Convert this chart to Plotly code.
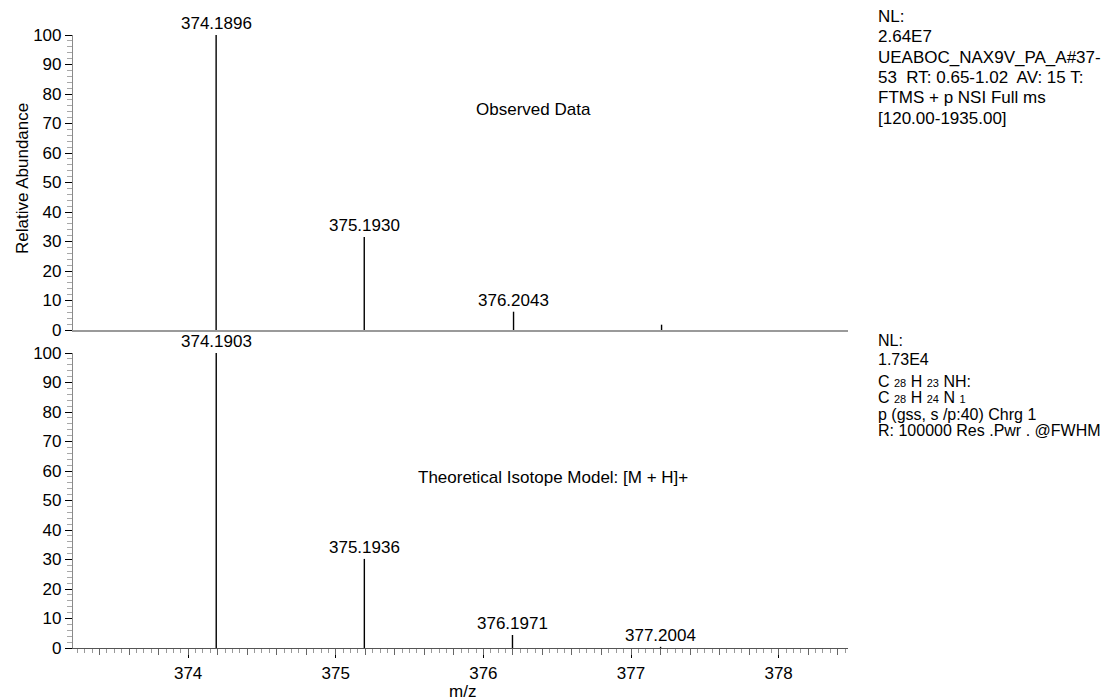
import plotly.graph_objects as go

# ---------------- data ----------------
obs_mz = [374.1896, 375.1930, 376.2043, 377.2070]
obs_int = [100, 31.5, 6.2, 1.8]
obs_labels = ["374.1896", "375.1930", "376.2043", ""]

theo_mz = [374.1903, 375.1936, 376.1971, 377.2004]
theo_int = [100, 30.2, 4.4, 0.4]
theo_labels = ["374.1903", "375.1936", "376.1971", "377.2004"]

x_ticks = [374, 375, 376, 377, 378]
y_ticks = [0, 10, 20, 30, 40, 50, 60, 70, 80, 90, 100]

SUB = "<span style='font-size:11px'>{}</span>"
info_obs = ["NL:", "2.64E7", "UEABOC_NAX9V_PA_A#37-", "53  RT: 0.65-1.02  AV: 15 T:",
            "FTMS + p NSI Full ms", "[120.00-1935.00]"]
info_theo = ["NL:", "1.73E4",
             "C " + SUB.format("28") + " H " + SUB.format("23") + " NH:",
             "C " + SUB.format("28") + " H " + SUB.format("24") + " N " + SUB.format("1"),
             "p (gss, s /p:40) Chrg 1", "R: 100000 Res .Pwr . @FWHM"]

# ---------------- layout geometry (screen pixels; page has 8px body margin) ----------------
OFF = 8
W, H = 1118, 700
X_LEFT, X_RIGHT = 73, 848          # screen x of plot left / right
TOP_Y0, TOP_Y1 = 330, 35           # screen y of 0 and 100 (top panel)
BOT_Y0, BOT_Y1 = 648, 353          # bottom panel
ML = X_LEFT - OFF
MR = W - (X_RIGHT - OFF)
MT = TOP_Y1 - OFF
MB = H - (BOT_Y0 - OFF)
PW, PH = W - ML - MR, H - MT - MB


def px(xs):
    return (xs - OFF - ML) / PW


def py(ys):
    return (H - MB - (ys - OFF)) / PH


FONT = "Liberation Sans, Arial, sans-serif"
XR = [373.22, 378.47]


def sticks(mz, inten):
    xs, ys = [], []
    for m, v in zip(mz, inten):
        xs += [m, m, None]
        ys += [0, v, None]
    return xs, ys


fig = go.Figure()
ox, oy = sticks(obs_mz, obs_int)
tx, ty = sticks(theo_mz, theo_int)
fig.add_trace(go.Scatter(x=ox, y=oy, mode="lines", line=dict(color="black", width=1.4),
                         xaxis="x", yaxis="y", showlegend=False, hoverinfo="skip"))
fig.add_trace(go.Scatter(x=tx, y=ty, mode="lines", line=dict(color="black", width=1.4),
                         xaxis="x2", yaxis="y2", showlegend=False, hoverinfo="skip"))
# invisible trace for the medium-tick overlay axis
fig.add_trace(go.Scatter(x=[XR[0]], y=[0], mode="markers", marker=dict(opacity=0),
                         xaxis="x3", yaxis="y2", showlegend=False, hoverinfo="skip"))

yax_common = dict(range=[0, 100], tickvals=y_ticks, ticks="outside", ticklen=7,
                  tickcolor="black", tickwidth=1, showline=True, linecolor="#8a8a8a",
                  linewidth=1.2, showgrid=False, zeroline=False,
                  tickfont=dict(family=FONT, size=17, color="black"),
                  minor=dict(dtick=2, ticks="outside", ticklen=5, tickcolor="#a8a8a8",
                             tickwidth=1, showgrid=False))

fig.update_layout(
    width=W, height=H,
    margin=dict(l=ML, r=MR, t=MT, b=MB),
    paper_bgcolor="white", plot_bgcolor="white",
    font=dict(family=FONT, size=17, color="black"),
    xaxis=dict(range=XR, anchor="y", domain=[0, 1], showticklabels=False, ticks="",
               showline=True, linecolor="#9a9a9a", linewidth=2, showgrid=False,
               zeroline=False),
    yaxis=dict(domain=[py(TOP_Y0), py(TOP_Y1)], anchor="x", **yax_common),
    xaxis2=dict(range=XR, anchor="y2", domain=[0, 1], tickvals=x_ticks,
                ticks="outside", ticklen=9, tickcolor="black", tickwidth=1,
                showline=True, linecolor="#555555", linewidth=1.2, showgrid=False,
                zeroline=False, tickfont=dict(family=FONT, size=17, color="black"),
                minor=dict(dtick=0.05, tick0=374, ticks="outside", ticklen=4,
                           tickcolor="#999999", tickwidth=1, showgrid=False)),
    xaxis3=dict(range=XR, anchor="y2", overlaying="x2", dtick=0.2, tick0=374,
                ticks="outside", ticklen=6, tickcolor="#666666", tickwidth=1,
                showticklabels=False, showline=False, showgrid=False, zeroline=False),
    yaxis2=dict(domain=[py(BOT_Y0), py(BOT_Y1)], anchor="x2", **yax_common),
)

ann = []
for m, v, t in zip(obs_mz, obs_int, obs_labels):
    if t:
        ann.append(dict(x=m, y=v, xref="x", yref="y", text=t, showarrow=False,
                        yanchor="bottom", xanchor="center", font=dict(size=17)))
for m, v, t in zip(theo_mz, theo_int, theo_labels):
    ann.append(dict(x=m, y=v, xref="x2", yref="y2", text=t, showarrow=False,
                    yanchor="bottom", xanchor="center", font=dict(size=17)))

ann.append(dict(x=px(533), y=py(110), xref="paper", yref="paper", text="Observed Data",
                showarrow=False, xanchor="center", yanchor="middle"))
ann.append(dict(x=px(553), y=py(477), xref="paper", yref="paper",
                text="Theoretical Isotope Model: [M + H]+",
                showarrow=False, xanchor="center", yanchor="middle"))
ann.append(dict(x=px(22), y=py(179), xref="paper", yref="paper", text="Relative Abundance",
                showarrow=False, textangle=-90, xanchor="center", yanchor="middle"))
ann.append(dict(x=px(462), y=py(691), xref="paper", yref="paper", text="m/z",
                showarrow=False, xanchor="center", yanchor="middle"))

obs_rows = [16, 36.5, 57, 77.5, 98, 118.5]
theo_rows = [340, 359, 381, 397.5, 414, 430.5]
for t, yy in zip(info_obs, obs_rows):
    ann.append(dict(x=px(876), y=py(yy), xref="paper", yref="paper", text=t,
                    showarrow=False, xanchor="left", yanchor="middle"))
for t, yy in zip(info_theo, theo_rows):
    ann.append(dict(x=px(876), y=py(yy), xref="paper", yref="paper", text=t,
                    showarrow=False, xanchor="left", yanchor="middle",
                    font=dict(size=16)))

fig.update_layout(annotations=ann)
fig.write_html("out.html")
